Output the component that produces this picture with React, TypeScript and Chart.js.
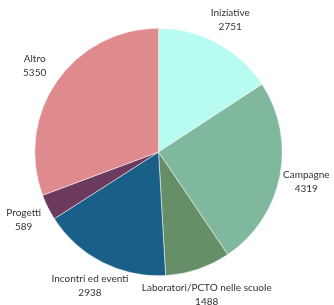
import React, { useEffect, useRef } from "react";
import { Chart, registerables } from "chart.js";

Chart.register(...registerables);

const categories = [
  "Iniziative",
  "Campagne",
  "Laboratori/PCTO nelle scuole",
  "Incontri ed eventi",
  "Progetti",
  "Altro",
];
const values = [2751, 4319, 1488, 2938, 589, 5350];
const colors = ["#b8fcf1", "#7fb89c", "#668f68", "#1a5f88", "#6b3a5c", "#df8a8c"];

const outLabels = {
  id: "outLabels",
  afterDatasetsDraw(chart: any) {
    const ctx = chart.ctx;
    const meta = chart.getDatasetMeta(0);
    ctx.save();
    ctx.font = "10px Lato";
    ctx.fillStyle = "#333333";
    ctx.textAlign = "center";
    ctx.textBaseline = "middle";
    meta.data.forEach((arc: any, i: number) => {
      const { x, y, startAngle, endAngle, outerRadius } = arc.getProps(
        ["x", "y", "startAngle", "endAngle", "outerRadius"],
        true
      );
      const mid = (startAngle + endAngle) / 2;
      const d = outerRadius + 27;
      const cx = x + Math.cos(mid) * d;
      const cy = y + Math.sin(mid) * d;
      ctx.fillText(String(chart.data.labels[i]), cx, cy - 7);
      ctx.fillText(String(chart.data.datasets[0].data[i]), cx, cy + 7);
    });
    ctx.restore();
  },
};

export default function App() {
  const ref = useRef<HTMLCanvasElement | null>(null);
  useEffect(() => {
    if (!ref.current) return;
    const chart = new Chart(ref.current, {
      type: "pie",
      data: {
        labels: categories,
        datasets: [
          {
            data: values,
            backgroundColor: colors,
            borderColor: "#ffffff",
            borderWidth: 0.5,
          },
        ],
      },
      options: {
        animation: false,
        responsive: false,
        layout: { padding: { top: 28, bottom: 29, left: 34, right: 51 } },
        plugins: { legend: { display: false }, tooltip: { enabled: false } },
      },
      plugins: [outLabels],
    });
    return () => chart.destroy();
  }, []);
  return (
    <div style={{ position: "fixed", left: 0, top: 0, width: 334, height: 305, background: "#fff" }}>
      <canvas ref={ref} width={334} height={305} style={{ width: 334, height: 305 }} />
    </div>
  );
}
